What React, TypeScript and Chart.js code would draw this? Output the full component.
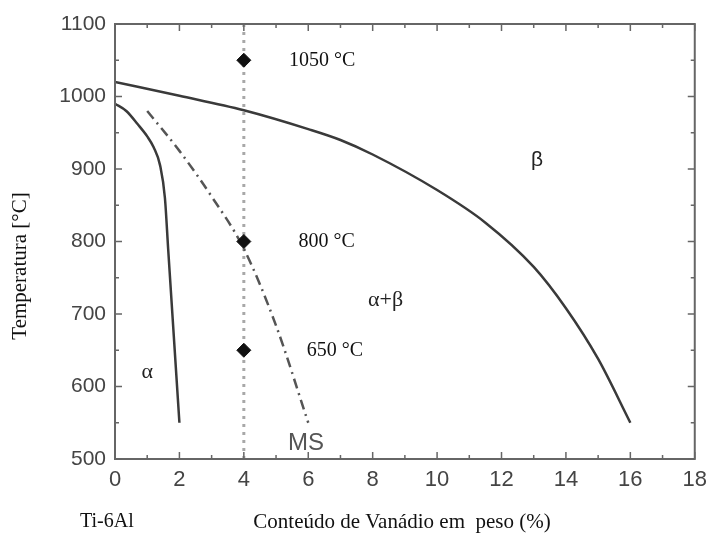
import React, { useEffect, useRef } from "react";
import { Chart, registerables } from "chart.js";

Chart.register(...registerables);

// ---- data ----
const betaV = [0, 2, 4, 6, 7, 8, 10, 11.5, 13, 14, 15, 16];
const betaT = [1020, 1001, 981, 955, 940, 920, 871, 826, 765, 708, 638, 550];

const alphaV = [0, 0.35, 0.7, 1.0, 1.2, 1.4, 1.55, 1.65, 2.0];
const alphaT = [990, 980, 962, 945, 930, 905, 860, 790, 550];

const msV = [1, 2, 3, 4, 5, 6];
const msT = [980, 925, 862, 790, 684, 550];

const sampleV = [4, 4, 4];
const sampleT = [1050, 800, 650];
const sampleLabels = ["1050 °C", "800 °C", "650 °C"];
const sampleLabelV = [5.4, 5.7, 5.95];

const guideV = [4, 4];
const guideT = [500, 1100];

const phaseLabels = ["β", "α+β", "α", "MS"];
const phaseV = [13.1, 8.4, 1.0, 5.93];
const phaseT = [912, 719, 620, 522];

const xMin = 0, xMax = 18, xStep = 2;
const yMin = 500, yMax = 1100, yStep = 100;

const xTitle = "Conteúdo de Vanádio em  peso (%)";
const yTitle = "Temperatura [°C]";
const baseLabel = "Ti-6Al";

const pts = (xs: number[], ys: number[]) => xs.map((x, i) => ({ x, y: ys[i] }));

const SERIF = "'Liberation Serif', 'Times New Roman', serif";
const SANS = "'Liberation Sans', Arial, sans-serif";

const framePlugin = {
  id: "frameAndText",
  afterDatasetsDraw(chart: any) {
    const { ctx, chartArea: a, scales } = chart;
    const xs = scales.x, ys = scales.y;
    ctx.save();
    // frame
    ctx.strokeStyle = "#666";
    ctx.lineWidth = 2;
    ctx.strokeRect(a.left, a.top, a.right - a.left, a.bottom - a.top);
    // inward ticks
    ctx.lineWidth = 1.5;
    for (let v = xMin; v <= xMax; v += 1) {
      const px = xs.getPixelForValue(v);
      const len = v % xStep === 0 ? 7 : 4;
      ctx.beginPath();
      ctx.moveTo(px, a.bottom); ctx.lineTo(px, a.bottom - len);
      ctx.moveTo(px, a.top); ctx.lineTo(px, a.top + len);
      ctx.stroke();
    }
    for (let v = yMin; v <= yMax; v += 50) {
      const py = ys.getPixelForValue(v);
      const len = v % yStep === 0 ? 7 : 4;
      ctx.beginPath();
      ctx.moveTo(a.left, py); ctx.lineTo(a.left + len, py);
      ctx.moveTo(a.right, py); ctx.lineTo(a.right - len, py);
      ctx.stroke();
    }
    // sample labels
    ctx.fillStyle = "#111";
    ctx.textBaseline = "middle";
    ctx.textAlign = "left";
    ctx.font = `20px ${SERIF}`;
    sampleLabels.forEach((t, i) => {
      ctx.fillText(t, xs.getPixelForValue(sampleLabelV[i]), ys.getPixelForValue(sampleT[i]));
    });
    // phase labels
    ctx.textAlign = "center";
    phaseLabels.forEach((t, i) => {
      const px = xs.getPixelForValue(phaseV[i]);
      const py = ys.getPixelForValue(phaseT[i]);
      if (t === "MS") { ctx.font = `24px ${SANS}`; ctx.fillStyle = "#555"; }
      else if (t === "β") { ctx.font = `21px ${SANS}`; ctx.fillStyle = "#222"; }
      else { ctx.font = `22px ${SERIF}`; ctx.fillStyle = "#222"; }
      ctx.fillText(t, px, py);
    });
    // outer texts
    ctx.fillStyle = "#111";
    ctx.font = `20px ${SERIF}`;
    ctx.textAlign = "left";
    ctx.fillText(baseLabel, 80, 522);
    ctx.font = `21px ${SERIF}`;
    ctx.textAlign = "center";
    ctx.fillText(xTitle, 402, 522);
    ctx.translate(20, 266);
    ctx.rotate(-Math.PI / 2);
    ctx.fillText(yTitle, 0, 0);
    ctx.restore();
  },
};

export default function App() {
  const ref = useRef<HTMLCanvasElement>(null);
  useEffect(() => {
    if (!ref.current) return;
    const chart = new Chart(ref.current, {
      type: "scatter",
      data: {
        datasets: [
          {
            data: pts(guideV, guideT),
            showLine: true,
            borderColor: "#a8a8a8",
            borderWidth: 3,
            borderDash: [3, 5],
            pointRadius: 0,
            order: 10,
          },
          {
            data: pts(betaV, betaT),
            showLine: true,
            borderColor: "#3a3a3a",
            borderWidth: 2.5,
            cubicInterpolationMode: "monotone",
            pointRadius: 0,
            order: 5,
          },
          {
            data: pts(alphaV, alphaT),
            showLine: true,
            borderColor: "#3a3a3a",
            borderWidth: 2.5,
            cubicInterpolationMode: "monotone",
            pointRadius: 0,
            order: 5,
          },
          {
            data: pts(msV, msT),
            showLine: true,
            borderColor: "#555",
            borderWidth: 2.5,
            borderDash: [10, 5, 2, 5],
            cubicInterpolationMode: "monotone",
            pointRadius: 0,
            order: 5,
          },
          {
            data: pts(sampleV, sampleT),
            showLine: false,
            pointStyle: "rectRot",
            pointRadius: 7,
            backgroundColor: "#111",
            borderColor: "#111",
            borderWidth: 1,
            order: 0,
          },
        ] as any,
      },
      options: {
        responsive: false,
        animation: false,
        layout: { padding: { top: 24, right: 16, left: 0, bottom: 0 } },
        plugins: { legend: { display: false }, tooltip: { enabled: false } },
        scales: {
          x: {
            type: "linear",
            min: xMin,
            max: xMax,
            grid: { display: false, drawTicks: false },
            border: { display: false },
            ticks: {
              stepSize: xStep,
              color: "#444",
              padding: 8,
              font: { family: SANS, size: 22 },
              callback: (v: any) => String(v),
            },
            afterFit: (s: any) => { s.height = 79; },
          },
          y: {
            type: "linear",
            min: yMin,
            max: yMax,
            grid: { display: false, drawTicks: false },
            border: { display: false },
            ticks: {
              stepSize: yStep,
              color: "#444",
              padding: 9,
              font: { family: SANS, size: 21 },
              callback: (v: any) => String(v),
            },
            afterFit: (s: any) => { s.width = 115; },
          },
        },
      } as any,
      plugins: [framePlugin],
    });
    return () => chart.destroy();
  }, []);
  return (
    <div style={{ position: "absolute", left: 0, top: 0, width: 715, height: 538, background: "#fff" }}>
      <canvas ref={ref} width={715} height={538} style={{ display: "block" }} />
    </div>
  );
}
